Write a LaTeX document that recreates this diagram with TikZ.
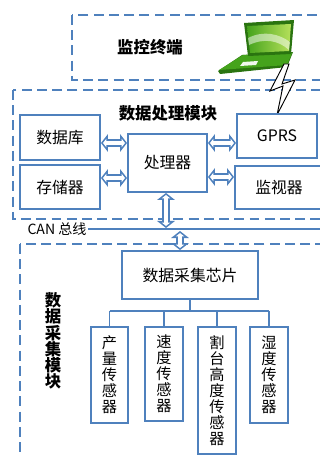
\documentclass[tikz,border=0pt]{standalone}
\usepackage{fontspec}
\setmainfont{Noto Sans CJK SC}
\usepackage{xcolor}
\usepackage{tikz}
\usetikzlibrary{arrows.meta,positioning,calc}
\definecolor{boxblue}{HTML}{4F81BD}
\definecolor{lapdark}{HTML}{2A7410}
\definecolor{lapmid}{HTML}{45A31C}
\definecolor{laplight}{HTML}{B5E05A}

\begin{document}
\begin{tikzpicture}[x=0.03cm,y=-0.03cm,
  box/.style={rectangle, draw=boxblue, line width=1.6pt, fill=white,
    inner sep=0pt, font=\fontsize{13.5}{15}\selectfont, align=center},
  sensor/.style={box, minimum width=1.12cm, font=\fontsize{13}{13.7}\selectfont},
  region/.style={draw=boxblue, line width=1.6pt, dash pattern=on 8.5pt off 4.5pt},
  title/.style={font=\fontsize{14}{13.8}\selectfont\bfseries, align=center},
  dbl/.style={draw=boxblue, line width=6.8pt,
    {Triangle[length=6pt,width=15.3pt,line width=0pt]}-{Triangle[length=6pt,width=15.3pt,line width=0pt]},
    postaction={draw=white, line width=4pt, shorten <=1.8pt, shorten >=1.8pt,
      {Triangle[length=2.8pt,width=7.2pt,line width=0pt]}-{Triangle[length=2.8pt,width=7.2pt,line width=0pt]}}},
  wire/.style={draw=boxblue, line width=1.6pt}
]
  \useasboundingbox (0,0) rectangle (320,457);
  \clip (0,0) rectangle (320,457);

  % dashed module frames
  \draw[region] (72,15) rectangle (335,80);
  \draw[region] (13,90) rectangle (335,219);
  \draw[region] (20,244) rectangle (335,470);

  \node[title] (term) at (150,47) {监控终端};
  \node[title] (procmod) at (168,113) {数据处理模块};
  \node[title] (acqmod) at (53,341) {数\\据\\采\\集\\模\\块};

  % laptop
  \fill[lapdark] (218,71) -- (242,55) -- (293,52) -- (287,67) -- (220,74) -- cycle;
  \fill[lapmid] (219,70) -- (243,55) -- (292,53) -- (287,65) -- cycle;
  \fill[white!92!lapmid] (240,66) -- (243,62) -- (258,61) -- (256,65) -- cycle;
  \fill[lapdark] (244,23) -- (294,20) -- (291,54) -- (248,56) -- cycle;
  \shade[left color=lapmid, right color=laplight] (247,26) -- (291,24) -- (289,51) -- (250,53) -- cycle;
  \fill[white, opacity=0.5] (248,38) .. controls (264,30) and (279,34) .. (290,42) -- (289,50) .. controls (278,40) and (264,38) .. (249,45) -- cycle;

  % wireless link
  \draw[black, line width=0.8pt, fill=white, line join=miter]
    (284,64) -- (270,91) -- (283,86) -- (277,115) -- (295,80) -- (282,84) -- (289,64) -- cycle;

  \node[box, minimum width=2.4cm, minimum height=1.35cm] (db) at (60,137.5) {数据库};
  \node[box, minimum width=2.4cm, minimum height=1.32cm] (store) at (60,187) {存储器};
  \node[box, minimum width=2.37cm, minimum height=1.74cm] (proc) at (167.5,163) {处理器};
  \node[box, minimum width=2.4cm, minimum height=1.32cm] (gprs) at (277,136) {GPRS};
  \node[box, minimum width=2.64cm, minimum height=1.29cm] (mon) at (279,187.5) {监视器};

  \draw[dbl] (db.east |- 0,143) -- (proc.west |- 0,143);
  \draw[dbl] (store.east |- 0,178) -- (proc.west |- 0,178);
  \draw[dbl] (proc.east |- 0,143) -- (gprs.west |- 0,143);
  \draw[dbl] (proc.east |- 0,177) -- (mon.west |- 0,177);

  % CAN bus
  \node[font=\fontsize{12}{14}\selectfont, inner sep=1pt] (can) at (57,229) {CAN 总线};
  \coordinate (canend) at (335,229);
  \draw[wire] (can.east) -- (canend);
  \coordinate (tapup) at (166,228);
  \coordinate (tapdown) at (180,231);
  \draw[dbl] (proc.south -| tapup) -- (tapup);

  \node[box, minimum width=4.08cm, minimum height=1.44cm] (chip) at (190,275) {数据采集芯片};
  \draw[dbl] (tapdown) -- (chip.north -| tapdown);

  \node[sensor, minimum height=2.88cm] (yield) at (109.5,375) {产\\量\\传\\感\\器};
  \node[sensor, minimum height=2.82cm] (speed) at (164,374) {速\\度\\传\\感\\器};
  \node[sensor, minimum height=3.81cm] (height) at (217,390.5) {割\\台\\高\\度\\传\\感\\器};
  \node[sensor, minimum height=2.88cm] (humid) at (269,375) {湿\\度\\传\\感\\器};

  % branch lines to the sensors
  \coordinate (bar) at (0,311);
  \draw[wire] (chip.south) -- (chip.south |- bar);
  \draw[wire] (yield.north |- bar) -- (humid.north |- bar);
  \foreach \s in {yield,speed,height,humid}
    \draw[wire] (\s.north |- bar) -- (\s.north);
\end{tikzpicture}
\end{document}
